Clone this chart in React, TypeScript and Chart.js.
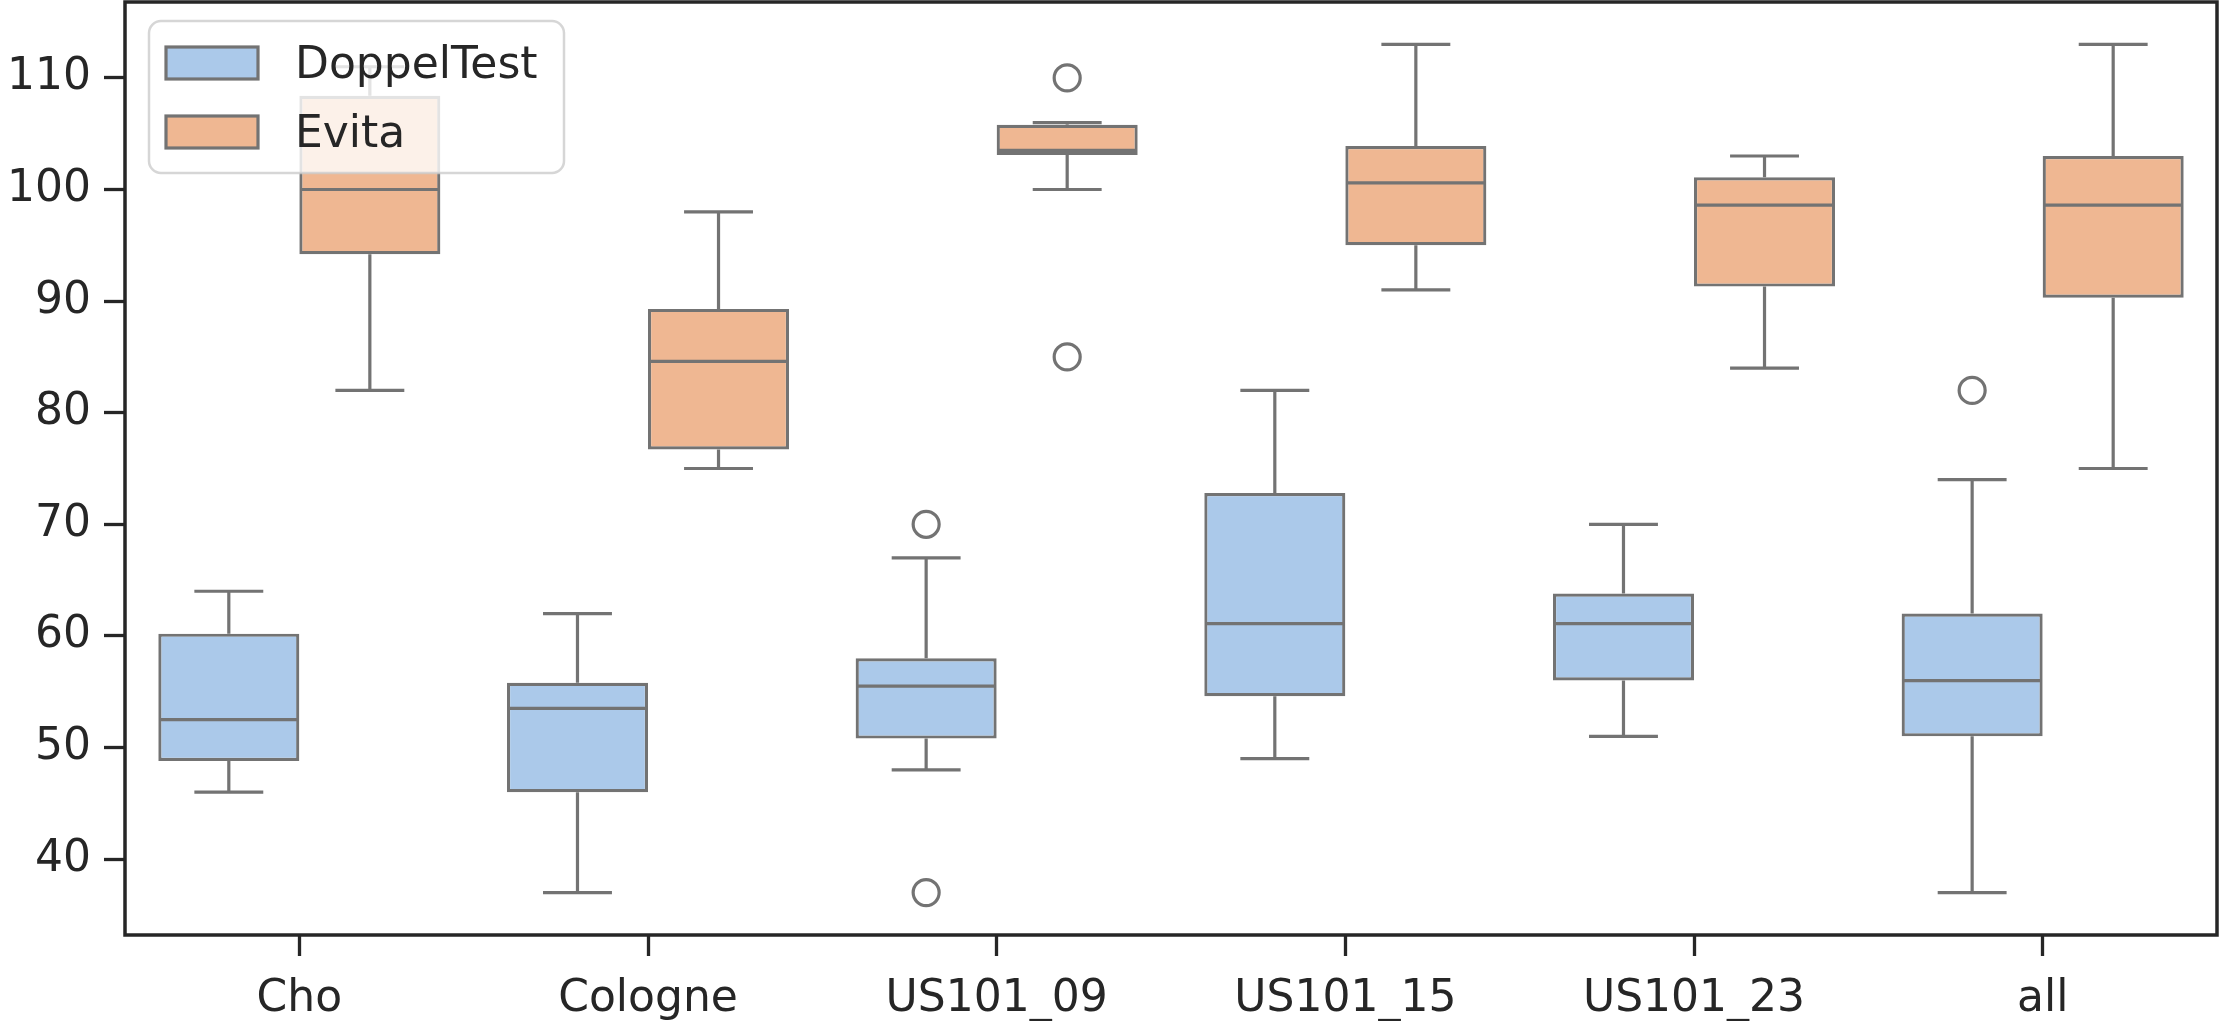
import { useEffect, useRef } from "react";
import { Chart, registerables } from "chart.js";

Chart.register(...registerables);

// Categories on the x axis
const CATEGORIES = ["Cho", "Cologne", "US101_09", "US101_15", "US101_23", "all"];
const SERIES_NAMES = ["DoppelTest", "Evita"];

// DoppelTest box statistics per category
const DOPPEL_LOW = [46, 37, 48, 49, 51, 37];
const DOPPEL_Q1 = [48.8, 46, 50.8, 54.6, 56, 51];
const DOPPEL_MEDIAN = [52.5, 53.5, 55.5, 61.1, 61.1, 56];
const DOPPEL_Q3 = [60.2, 55.8, 58, 72.8, 63.8, 62];
const DOPPEL_HIGH = [64, 62, 67, 82, 70, 74];
const DOPPEL_OUTLIERS = [[], [], [70, 37], [], [], [82]];

// Evita box statistics per category
const EVITA_LOW = [82, 75, 100, 91, 84, 75];
const EVITA_Q1 = [94.2, 76.7, 103.1, 95, 91.3, 90.3];
const EVITA_MEDIAN = [100, 84.6, 103.5, 100.6, 98.6, 98.6];
const EVITA_Q3 = [108.4, 89.3, 105.8, 103.9, 101.1, 103];
const EVITA_HIGH = [111, 98, 106, 113, 103, 113];
const EVITA_OUTLIERS = [[], [], [110, 85], [], [], []];

// Value axis
const Y_TICKS = [40, 50, 60, 70, 80, 90, 100, 110];
const Y_MIN = 33.2;
const Y_MAX = 116.8;

const FILL_COLORS = ["#abc9ea", "#efb792"];
const LINE_COLOR = "#737373";
const INK = "#262626";
const FONT_FAMILY = "'DejaVu Sans', sans-serif";
const FONT_SIZE = 44;
const LINE_W = 3.2;

type Stats = {
  low: number[];
  q1: number[];
  median: number[];
  q3: number[];
  high: number[];
  outliers: number[][];
};

const STATS: Stats[] = [
  {
    low: DOPPEL_LOW,
    q1: DOPPEL_Q1,
    median: DOPPEL_MEDIAN,
    q3: DOPPEL_Q3,
    high: DOPPEL_HIGH,
    outliers: DOPPEL_OUTLIERS,
  },
  {
    low: EVITA_LOW,
    q1: EVITA_Q1,
    median: EVITA_MEDIAN,
    q3: EVITA_Q3,
    high: EVITA_HIGH,
    outliers: EVITA_OUTLIERS,
  },
];

// nominal box width (bars are drawn slightly wider so the outline straddles the edge)
const boxWidth = (barWidth: number) => barWidth - LINE_W;

// Whiskers, caps, medians, fliers, frame and legend for the box plot
const boxPlotPlugin = {
  id: "boxPlot",
  beforeDatasetsDraw(chart: any) {
    const ctx = chart.ctx;
    const ys = chart.scales.y;
    chart.data.datasets.forEach((ds: any, d: number) => {
      const s: Stats = ds.stats;
      const meta = chart.getDatasetMeta(d);
      meta.data.forEach((bar: any, i: number) => {
        const { x, width } = bar.getProps(["x", "width"], true);
        const w = boxWidth(width);
        const yHigh = ys.getPixelForValue(s.high[i]);
        const yLow = ys.getPixelForValue(s.low[i]);
        ctx.save();
        ctx.strokeStyle = LINE_COLOR;
        ctx.lineWidth = LINE_W;
        ctx.beginPath();
        ctx.moveTo(x, ys.getPixelForValue(s.q3[i]));
        ctx.lineTo(x, yHigh);
        ctx.moveTo(x, ys.getPixelForValue(s.q1[i]));
        ctx.lineTo(x, yLow);
        ctx.moveTo(x - w / 4, yHigh);
        ctx.lineTo(x + w / 4, yHigh);
        ctx.moveTo(x - w / 4, yLow);
        ctx.lineTo(x + w / 4, yLow);
        ctx.stroke();
        ctx.restore();
      });
    });
  },
  afterDatasetsDraw(chart: any) {
    const ctx = chart.ctx;
    const ys = chart.scales.y;
    chart.data.datasets.forEach((ds: any, d: number) => {
      const s: Stats = ds.stats;
      const meta = chart.getDatasetMeta(d);
      meta.data.forEach((bar: any, i: number) => {
        const { x, width } = bar.getProps(["x", "width"], true);
        const w = boxWidth(width);
        ctx.save();
        ctx.strokeStyle = LINE_COLOR;
        ctx.lineWidth = LINE_W;
        const yMed = ys.getPixelForValue(s.median[i]);
        ctx.beginPath();
        ctx.moveTo(x - w / 2, yMed);
        ctx.lineTo(x + w / 2, yMed);
        ctx.stroke();
        s.outliers[i].forEach((v) => {
          ctx.beginPath();
          ctx.arc(x, ys.getPixelForValue(v), 13, 0, Math.PI * 2);
          ctx.stroke();
        });
        ctx.restore();
      });
    });
  },
  afterDraw(chart: any) {
    const ctx = chart.ctx;
    const a = chart.chartArea;
    ctx.save();
    // frame
    ctx.strokeStyle = INK;
    ctx.lineWidth = 3.5;
    ctx.strokeRect(a.left, a.top, a.right - a.left, a.bottom - a.top);

    // legend
    const lx = a.left + 24;
    const ly = 21;
    const lw = 415;
    const lh = 152;
    ctx.beginPath();
    ctx.roundRect(lx, ly, lw, lh, 12);
    ctx.fillStyle = "rgba(255,255,255,0.8)";
    ctx.fill();
    ctx.strokeStyle = "rgba(204,204,204,0.8)";
    ctx.lineWidth = 2.5;
    ctx.stroke();

    ctx.font = `${FONT_SIZE}px ${FONT_FAMILY}`;
    ctx.textBaseline = "alphabetic";
    ctx.textAlign = "left";
    chart.data.datasets.forEach((ds: any, d: number) => {
      const cy = 63 + d * 69;
      ctx.fillStyle = ds.backgroundColor;
      ctx.fillRect(lx + 17, cy - 16, 92, 32);
      ctx.strokeStyle = LINE_COLOR;
      ctx.lineWidth = LINE_W;
      ctx.strokeRect(lx + 17, cy - 16, 92, 32);
      ctx.fillStyle = INK;
      ctx.fillText(ds.label, lx + 146, cy + 15);
    });
    ctx.restore();
  },
};

export default function App() {
  const canvasRef = useRef<HTMLCanvasElement | null>(null);

  useEffect(() => {
    const canvas = canvasRef.current;
    if (!canvas) return;

    const datasets = SERIES_NAMES.map((name, d) => ({
      label: name,
      data: STATS[d].q1.map((q, i) => [q, STATS[d].q3[i]]),
      backgroundColor: FILL_COLORS[d],
      borderColor: LINE_COLOR,
      borderWidth: LINE_W,
      borderSkipped: false,
      barPercentage: 1,
      categoryPercentage: 0.809,
      stats: STATS[d],
    }));

    const tickFont = { family: FONT_FAMILY, size: FONT_SIZE };

    const chart = new Chart(canvas, {
      type: "bar",
      data: { labels: CATEGORIES, datasets: datasets as any },
      options: {
        responsive: false,
        devicePixelRatio: 1,
        animation: false,
        layout: { padding: { left: 0, top: 2, right: 4, bottom: 0 } },
        plugins: {
          legend: { display: false },
          tooltip: { enabled: false },
        },
        scales: {
          x: {
            offset: true,
            grid: {
              offset: false,
              drawOnChartArea: false,
              drawTicks: true,
              tickLength: 21,
              tickWidth: 3.3,
              tickColor: INK,
            },
            border: { display: false },
            ticks: { font: tickFont, color: INK, padding: 17, maxRotation: 0 },
            afterFit: (scale: any) => {
              scale.height = 86;
              scale.paddingLeft = 0;
              scale.paddingRight = 0;
            },
          },
          y: {
            min: Y_MIN,
            max: Y_MAX,
            grid: {
              drawOnChartArea: false,
              drawTicks: true,
              tickLength: 21,
              tickWidth: 3.3,
              tickColor: INK,
            },
            border: { display: false },
            ticks: { font: tickFont, color: INK, padding: 13 },
            afterBuildTicks: (scale: any) => {
              scale.ticks = Y_TICKS.map((v) => ({ value: v }));
            },
            afterFit: (scale: any) => {
              scale.width = 125;
              scale.paddingTop = 0;
              scale.paddingBottom = 0;
            },
          },
        },
      },
      plugins: [boxPlotPlugin],
    });

    return () => chart.destroy();
  }, []);

  return (
    <div
      style={{
        position: "fixed",
        left: 0,
        top: 0,
        width: 2221,
        height: 1021,
        background: "#ffffff",
      }}
    >
      <canvas
        ref={canvasRef}
        width={2221}
        height={1021}
        style={{ width: 2221, height: 1021, display: "block" }}
      />
    </div>
  );
}
